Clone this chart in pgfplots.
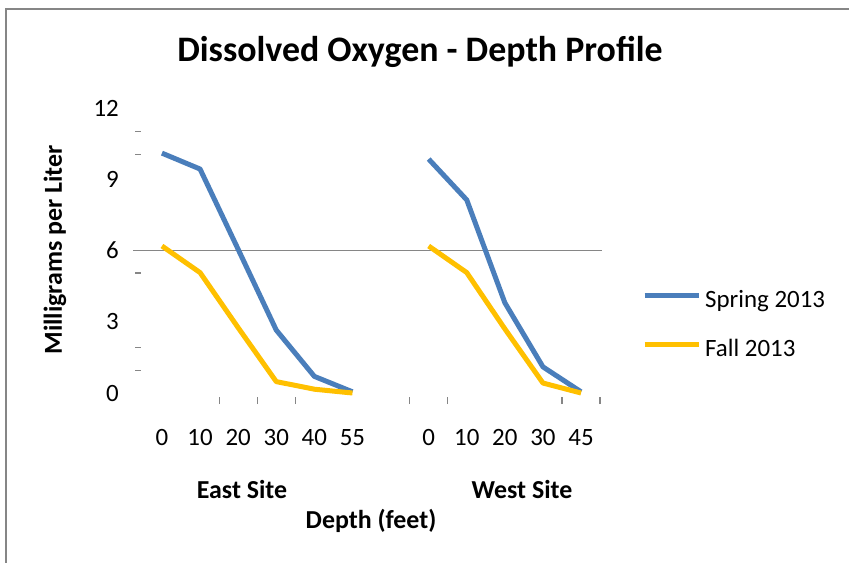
\documentclass[border=0pt]{standalone}
\usepackage{pgfplots}
\pgfplotsset{compat=1.18}
\usepackage{fontspec}
\setmainfont{Carlito}
\definecolor{springblue}{HTML}{4A7EBB}
\definecolor{fallgold}{HTML}{FFC000}
\definecolor{framegray}{HTML}{868686}
\begin{document}
\begin{tikzpicture}
\useasboundingbox (0bp,0bp) rectangle (849bp,-563bp);
\draw[framegray, line width=2bp] (5.5bp,-600bp) -- (5.5bp,-9bp) -- (900bp,-9bp);
\begin{axis}[
  at={(133bp,-393bp)}, anchor=south west,
  scale only axis, width=469bp, height=285bp,
  xmin=-0.76, xmax=11.55, ymin=0, ymax=12, clip=false,
  unbounded coords=jump,
  axis line style={draw=none},
  tick pos=left,
  xtick={0,1,2,3,4,5,7,8,9,10,11},
  xticklabels={0,10,20,30,40,55,0,10,20,30,45},
  ytick={0,3,6,9,12},
  xtick style={draw=none}, ytick style={draw=none},
  /pgf/number format/assume math mode=true,
  tick label style={font=\fontsize{25}{30}\selectfont},
  xticklabel style={anchor=base, inner sep=0pt, yshift=-52bp},
  yticklabel style={anchor=east, inner sep=0pt, xshift=-14bp},
  extra x ticks={1.5,2.5,3.5,6.5,7.5,10.5,11.5}, extra x tick labels={},
  extra x tick style={major tick length=7bp, tick align=outside, xtick style={draw=framegray, line width=1.2bp, yshift=-4bp}},
  extra y ticks={0.95,1.9,5.05,10.05,11}, extra y tick labels={},
  extra y tick style={major tick length=6bp, tick align=inside, ytick style={draw=framegray, line width=1.2bp, xshift=2bp}},
  title={Dissolved Oxygen - Depth Profile},
  title style={at={(0.612,1.1439)}, anchor=base, inner sep=0pt, font=\bfseries\fontsize{36}{43}\selectfont},
  ylabel={Milligrams per Liter},
  ylabel style={at={(-0.1514,0.5018)}, anchor=base, inner sep=0pt, font=\bfseries\fontsize{26}{31}\selectfont},
  xlabel={Depth (feet)},
  xlabel style={at={(0.5075,-0.4737)}, anchor=base, inner sep=0pt, font=\bfseries\fontsize{26}{31}\selectfont},
  legend style={at={(1.0853,0.3649)}, anchor=north west, draw=none, fill=none, inner sep=0pt, row sep=25bp,
    font=\fontsize{25}{30}\selectfont, nodes={inner sep=0pt, text height=18bp, text depth=6bp}},
  legend cell align=left,
  legend image code/.code={\draw[#1, line width=5bp] (0bp,6bp) -- (54bp,6bp); \path (58bp,0bp);},
]
\draw[framegray, line width=1.8bp] (rel axis cs:0,0.5) -- (rel axis cs:1,0.5);
\addplot[springblue, line width=5bp, line join=round] coordinates {
  (0,10.1) (1,9.43) (2,6.05) (3,2.65) (4,0.7) (5,0.05) (6,nan)
  (7,9.85) (8,8.13) (9,3.8) (10,1.1) (11,0.05)};
\addplot[fallgold, line width=5bp, line join=round] coordinates {
  (0,6.19) (1,5.07) (2,2.75) (3,0.48) (4,0.16) (5,0) (6,nan)
  (7,6.19) (8,5.07) (9,2.7) (10,0.42) (11,0)};
\legend{Spring 2013, Fall 2013}
\node[anchor=base, inner sep=0pt, font=\bfseries\fontsize{26}{31}\selectfont] at (rel axis cs:0.2324,-0.3684) {East Site};
\node[anchor=base, inner sep=0pt, font=\bfseries\fontsize{26}{31}\selectfont] at (rel axis cs:0.8294,-0.3684) {West Site};
\end{axis}
\end{tikzpicture}
\end{document}
